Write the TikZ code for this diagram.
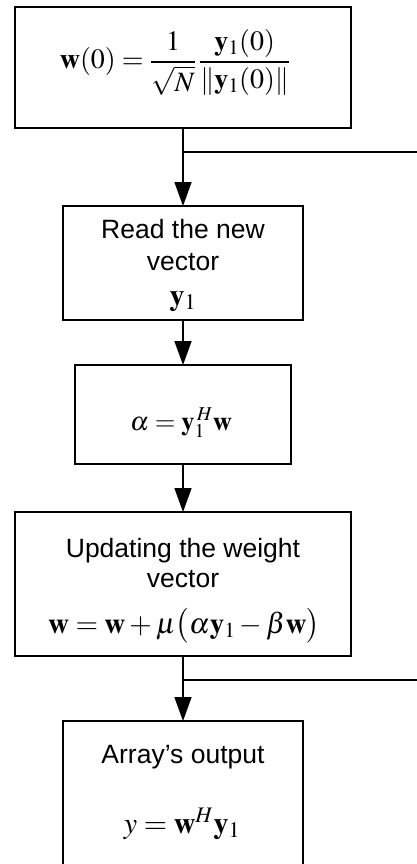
\documentclass[tikz,border=0pt]{standalone}
\usepackage{mathptmx}
\usepackage[no-math]{fontspec}
\setmainfont{Liberation Sans}
\usetikzlibrary{arrows.meta}
\newcommand\txtsize{\fontsize{26.5}{31.8}\selectfont}
\newcommand\mathsize{\fontsize{30}{36}\selectfont}
\begin{document}
\begin{tikzpicture}[x=1pt,y=-1pt,line width=1.6pt,
  box/.style={draw,inner sep=0pt,outer sep=0pt,minimum width=#1},
  lbl/.style={anchor=base,inner sep=0pt,font=\txtsize},
  eqn/.style={anchor=base,inner sep=0pt,font=\mathsize},
  arr/.style={-{Triangle[length=24pt,width=17pt]}}]
\useasboundingbox (0,0) rectangle (417,864);
\clip (0,0) rectangle (417,864);
% boxes
\node[box=336pt,minimum height=121pt] (B1) at (183,67.5) {};
\node[box=240pt,minimum height=114pt] (B2) at (183,263) {};
\node[box=216pt,minimum height=99pt] (B3) at (183,414.5) {};
\node[box=336pt,minimum height=144pt] (B4) at (183,584) {};
\node[box=240pt,minimum height=170pt] (B5) at (183,806) {};
% texts
\node[eqn,font=\fontsize{28}{34}\selectfont] (t1) at (175,69) {$\displaystyle\mathbf{w}(0)=\frac{1}{\sqrt{N}}\,\frac{\mathbf{y}_1(0)}{\|\mathbf{y}_1(0)\|}$};
\node[lbl] (t2a) at (183,238) {Read the new};
\node[lbl] (t2b) at (183,270) {vector};
\node[eqn] (t2c) at (183,305) {$\mathbf{y}_1$};
\node[eqn,font=\fontsize{26.5}{32}\selectfont] (t3) at (181,430) {$\alpha=\mathbf{y}_1^{\,H}\mathbf{w}$};
\node[lbl] (t4a) at (183,557) {Updating the weight};
\node[lbl] (t4b) at (183,587) {vector};
\node[eqn,font=\fontsize{29}{35}\selectfont] (t4c) at (184,633) {$\mathbf{w}=\mathbf{w}+\mu\bigl(\alpha\mathbf{y}_1-\beta\mathbf{w}\bigr)$};
\node[lbl] (t5a) at (183,763) {Array’s output};
\node[eqn] (t5b) at (182,833) {$y=\mathbf{w}^H\mathbf{y}_1$};
% connectors
\coordinate (e1) at (417,152);
\coordinate (e2) at (417,680);
\draw[arr] (B1.south) -- (B2.north);
\draw (B1.south |- e1) -- (e1);
\draw[arr] (B2.south) -- (B3.north);
\draw[arr] (B3.south) -- (B4.north);
\draw[arr] (B4.south) -- (B5.north);
\draw (B4.south |- e2) -- (e2);
\end{tikzpicture}
\end{document}
